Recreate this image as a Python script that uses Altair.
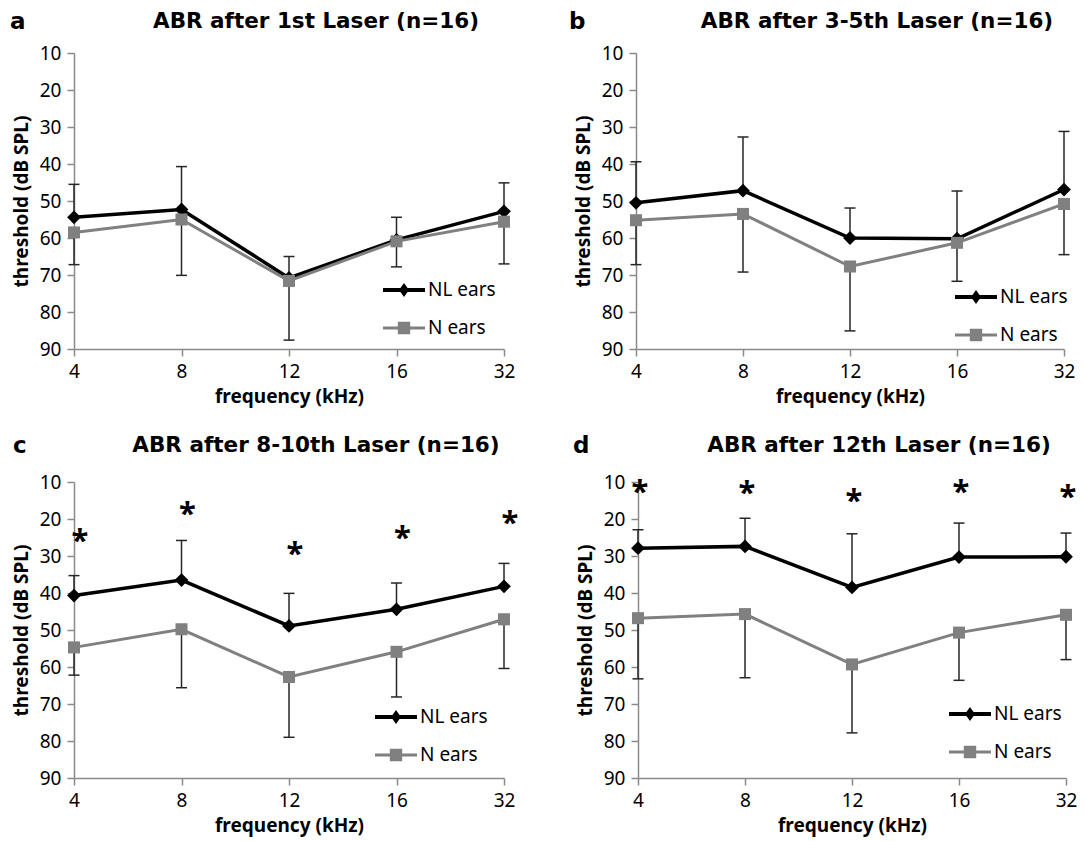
import altair as alt
import pandas as pd

freq = ["4", "8", "12", "16", "32"]
series_names = ["NL ears", "N ears"]

# Panel a
a_nl = [54.4, 52.3, 70.8, 60.5, 52.8]
a_nl_sd = [8.9, 11.6, 5.8, 6.1, 7.7]
a_n = [58.5, 55.0, 71.6, 60.9, 55.6]
a_n_sd = [8.7, 15.1, 16.0, 6.9, 11.4]
# Panel b
b_nl = [50.5, 47.2, 60.0, 60.2, 46.9]
b_nl_sd = [11.1, 14.5, 8.1, 12.9, 15.7]
b_n = [55.2, 53.5, 67.7, 61.3, 50.8]
b_n_sd = [12.0, 15.7, 17.4, 10.4, 13.7]
# Panel c
c_nl = [40.7, 36.5, 48.9, 44.4, 38.2]
c_nl_sd = [5.4, 10.7, 8.8, 7.1, 6.2]
c_n = [54.7, 49.8, 62.7, 55.9, 47.1]
c_n_sd = [7.5, 15.8, 16.3, 12.2, 13.3]
c_star = [25.0, 17.9, 28.6, 24.4, 20.3]
# Panel d
d_nl = [27.9, 27.4, 38.5, 30.3, 30.2]
d_nl_sd = [5.0, 7.6, 14.5, 9.2, 6.4]
d_n = [46.8, 45.7, 59.3, 50.7, 45.9]
d_n_sd = [16.4, 17.2, 18.5, 12.9, 12.1]
d_star = [11.9, 12.1, 14.2, 11.8, 13.3]

titles = ["ABR after 1st Laser (n=16)", "ABR after 3-5th Laser (n=16)",
          "ABR after 8-10th Laser (n=16)", "ABR after 12th Laser (n=16)"]
letters = ["a", "b", "c", "d"]

FONT = "Noto Sans"
TFONT = "DejaVu Sans"
BLACK = "#000000"
GRAY = "#808080"
ERR = "#262626"

# legend symbols: line with marker, in [-1,1] units scaled by sqrt(size)/2
PATH_NL = "M-2.1,-0.2H2.1V0.2H-2.1Z M0,-0.7L0.5,0L0,0.7L-0.5,0Z"
PATH_N = "M-2.1,-0.15H2.1V0.15H-2.1Z M-0.62,-0.62H0.62V0.62H-0.62Z"

H = 296


def panel(idx, nl, nl_sd, n, n_sd, stars, width, legx, legy, title_y, letter_x, letter_y, star_dx):
    rows = []
    for i, f in enumerate(freq):
        rows.append({"freq": f, "series": "NL ears", "value": nl[i], "bound": nl[i] - nl_sd[i]})
        rows.append({"freq": f, "series": "N ears", "value": n[i], "bound": n[i] + n_sd[i]})
    df = pd.DataFrame(rows)
    base = alt.Chart(df)

    x = alt.X("freq:O", sort=freq,
              scale=alt.Scale(type="point", padding=0),
              axis=alt.Axis(title="frequency (kHz)", labelAngle=0))
    yax = alt.Axis(title="threshold (dB SPL)", values=list(range(10, 91, 10)), grid=False)
    ysc = alt.Scale(domain=[10, 90], reverse=True, nice=False, zero=False)
    y = alt.Y("value:Q", scale=ysc, axis=yax)
    yb = alt.Y("bound:Q", scale=ysc, axis=yax)

    layers = []
    for name, col, sw, shape, size in [("NL ears", BLACK, 3.5, "diamond", 190),
                                       ("N ears", GRAY, 3, "square", 145)]:
        sub = base.transform_filter(alt.datum.series == name)
        layers.append(sub.mark_line(color=col, strokeWidth=sw).encode(x=x, y=y))
        layers.append(sub.mark_rule(color=ERR, strokeWidth=1.5).encode(x=x, y=y, y2="bound:Q"))
        layers.append(sub.mark_tick(color=ERR, thickness=1.5, size=11, orient="horizontal", opacity=1)
                      .encode(x=x, y=yb))
        layers.append(sub.mark_point(shape=shape, filled=True, size=size, color=col, opacity=1)
                      .encode(x=x, y=y))

    leg = alt.Legend(title=None, orient="none", legendX=legx, legendY=legy,
                     labelFont=FONT, labelFontSize=19, labelColor="black",
                     symbolSize=400, rowPadding=18, labelOffset=14, padding=0,
                     symbolStrokeWidth=0, symbolOpacity=1)
    legend_layer = base.transform_filter("datum.value < 0").mark_point(
        filled=True, opacity=1, size=400).encode(
        x=x, y=y,
        color=alt.Color("series:N", scale=alt.Scale(domain=series_names, range=[BLACK, GRAY]), legend=leg),
        shape=alt.Shape("series:N", scale=alt.Scale(domain=series_names, range=[PATH_NL, PATH_N]), legend=leg),
    )
    layers.append(legend_layer)

    if stars is not None:
        sdf = pd.DataFrame({"freq": freq, "star": stars})
        layers.append(alt.Chart(sdf).mark_text(text="*", font=FONT, fontSize=31, fontWeight="bold",
                                               color="black", dx=star_dx, dy=4, baseline="middle")
                      .encode(x=x, y=alt.Y("star:Q", scale=ysc, axis=yax)))

    ldf = pd.DataFrame({"t": [letters[idx]], "title": [titles[idx]]})
    layers.append(alt.Chart(ldf).mark_text(font=TFONT, fontSize=23, fontWeight="bold", align="left",
                                           baseline="alphabetic", color="black")
                  .encode(text="t:N", x=alt.value(letter_x), y=alt.value(letter_y)))
    layers.append(alt.Chart(ldf).mark_text(font=TFONT, fontSize=21.5, fontWeight="bold", align="center",
                                           baseline="alphabetic", color="black")
                  .encode(text="title:N", x=alt.value(width / 2 + 27), y=alt.value(title_y)))

    return alt.layer(*layers).properties(width=width, height=H)


pa = panel(0, a_nl, a_nl_sd, a_n, a_n_sd, None, 430, 320, 227, -25, -64, -24, 0)
pb = panel(1, b_nl, b_nl_sd, b_n, b_n_sd, None, 428, 330, 234, -25, -67, -24, 0)
pc = panel(2, c_nl, c_nl_sd, c_n, c_n_sd, c_star, 430, 312, 225, -30, -61, -29, 6)
pd_ = panel(3, d_nl, d_nl_sd, d_n, d_n_sd, d_star, 428, 322, 222, -30, -65, -29, 2)

top = alt.hconcat(pa, pb, spacing=54).resolve_scale(color="independent", shape="independent")
bottom = alt.hconcat(pc, pd_, spacing=54).resolve_scale(color="independent", shape="independent")

chart = alt.vconcat(top, bottom, spacing=29).resolve_scale(
    color="independent", shape="independent"
).properties(padding={"left": 2, "top": 3, "right": 0, "bottom": 8}, background="white").configure_view(
    stroke=None
).configure_axis(
    labelFont=FONT, labelFontSize=19, labelColor="black",
    titleFont=FONT, titleFontSize=19, titleFontWeight="bold", titleColor="black",
    domainColor="#8a8a8a", domainWidth=1.5, tickColor="#8a8a8a", tickWidth=1.5, tickSize=7,
    labelPadding=6, titlePadding=8,
).configure_axisX(labelPadding=6, titlePadding=6)

chart.save("out.html", embed_options={"renderer": "svg", "actions": False})
